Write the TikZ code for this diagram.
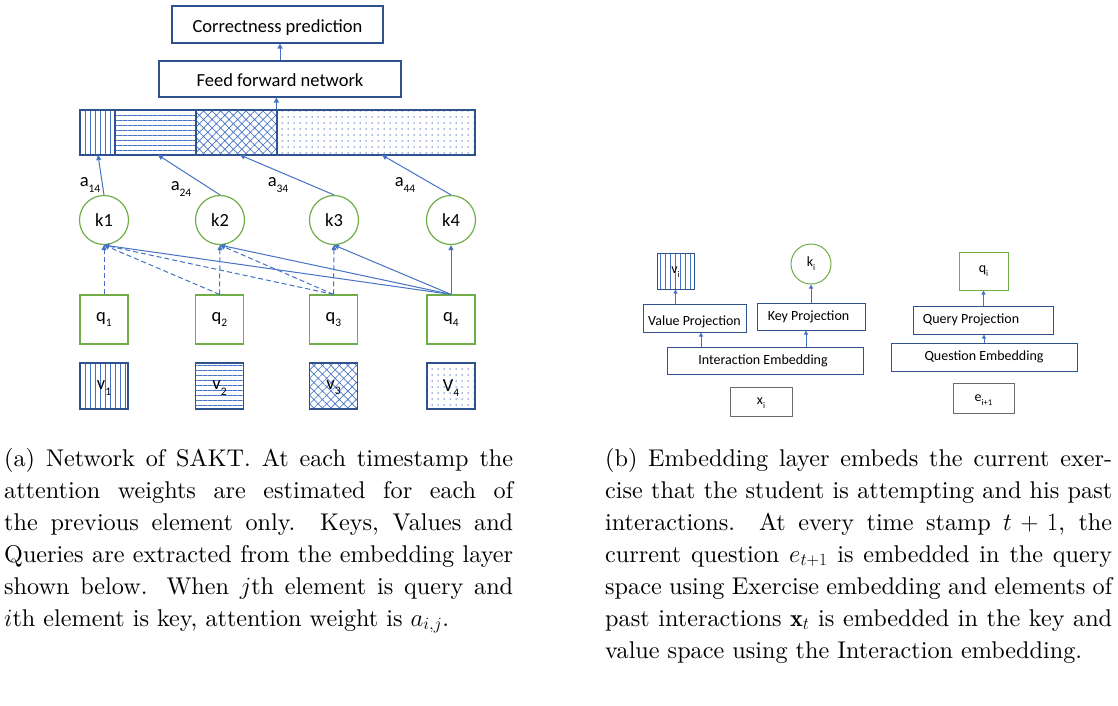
\documentclass[tikz,border=0pt]{standalone}
\usepackage{fontspec}
\newfontfamily\diag{Carlito}
% caption text in the 10pt design of Latin Modern, scaled up
\newfontfamily\capfont{lmroman10-regular.otf}[
  ItalicFont=lmroman10-italic.otf,
  BoldFont=lmroman10-bold.otf]
\usetikzlibrary{patterns.meta,arrows.meta,calc}

\definecolor{lblue}{HTML}{4472C4}
\definecolor{dblue}{HTML}{2F528F}
\definecolor{kgreen}{HTML}{70AD47}
\definecolor{bgrey}{HTML}{6A6A6A}

% lowered, reduced index used in the diagram labels
\newcommand\lowidx[1]{\raisebox{-0.28em}{\scalebox{0.62}{#1}}}
% move a label down without changing the box the node centres
\newcommand\dropby[2]{\raisebox{-#1}[\height][\depth]{#2}}

\tikzset{
  bigfont/.style={font=\diag\fontsize{18.5}{20}\selectfont},
  smallfont/.style={font=\diag\fontsize{14}{16}\selectfont},
  bluebox/.style={draw=dblue, line width=1.1pt, inner sep=0pt, bigfont},
  smallbox/.style={draw=dblue, line width=1pt, inner sep=0pt, smallfont},
  greybox/.style={draw=bgrey, line width=1pt, inner sep=0pt, smallfont},
  querybox/.style={draw=kgreen, line width=1.2pt, inner sep=0pt,
                   minimum width=48pt, minimum height=49pt, bigfont},
  valuebox/.style={draw=dblue, line width=1.2pt, inner sep=0pt,
                   minimum width=48pt, minimum height=46pt, bigfont},
  keycirc/.style={circle, draw=kgreen, line width=1.2pt, inner sep=0pt,
                  minimum size=49pt, bigfont},
  seg/.style={draw=dblue, line width=1.1pt, inner sep=0pt, minimum height=45pt},
  link/.style={draw=lblue, line width=1pt, -{Triangle[length=5pt,width=5pt]}},
  dlink/.style={link, dash pattern=on 5pt off 3pt},
  slink/.style={draw=lblue, line width=0.8pt, -{Triangle[length=4pt,width=4pt]}},
  vlines/.style={pattern={Lines[angle=90,distance=5pt,line width=0.9pt]}, pattern color=lblue},
  hlines/.style={pattern={Lines[angle=0,distance=5pt,line width=0.9pt]}, pattern color=lblue},
  xhatch/.style={pattern={Hatch[angle=45,distance=6pt,line width=0.65pt]}, pattern color=lblue},
  dotpat/.style={pattern={Dots[distance=6pt,radius=0.75pt]}, pattern color=lblue},
  capt/.style={anchor=base west, inner sep=0pt},
}

\begin{document}
\begin{tikzpicture}[x=1pt,y=-1pt]
\useasboundingbox (0,0) rectangle (1118,705);

% ---------------- SAKT network ----------------
\node[bluebox, minimum width=211pt, minimum height=37pt] (cp) at (277.5,24.5) {\dropby{3.5pt}{Correctness prediction}};
\node[bluebox, minimum width=242pt, minimum height=36pt] (ffn) at (280,79) {\dropby{1.5pt}{Feed forward network}};

% attention-weighted sum of values
\node[seg, vlines, minimum width=35pt]  (s1) at (97.5,132.5) {};
\node[seg, hlines, minimum width=81pt]  (s2) at (155.5,132.5) {};
\node[seg, xhatch, minimum width=81pt]  (s3) at (236.5,132.5) {};
\node[seg, dotpat, minimum width=198pt] (s4) at (376,132.5) {};

\draw[link] (s4.north west) -- (s4.north west |- ffn.south);
\draw[link] (ffn.north) -- (ffn.north |- cp.south);

% keys
\node[keycirc] (k1) at (104,220) {k1};
\node[keycirc] (k2) at (220,220) {k2};
\node[keycirc] (k3) at (334,220) {k3};
\node[keycirc] (k4) at (451,220) {k4};

% queries
\node[querybox] (q1) at (104,319.5) {q\lowidx{1}};
\node[querybox] (q2) at (219.5,319.5) {q\lowidx{2}};
\node[querybox] (q3) at (333.5,319.5) {q\lowidx{3}};
\node[querybox] (q4) at (451,319.5) {q\lowidx{4}};

% values
\node[valuebox, vlines] (v1) at (104,386) {\dropby{2pt}{v\lowidx{1}}};
\node[valuebox, hlines] (v2) at (219.5,386) {\dropby{2pt}{v\lowidx{2}}};
\node[valuebox, xhatch] (v3) at (333.5,386) {\dropby{2pt}{v\lowidx{3}}};
\node[valuebox, dotpat] (v4) at (451,386) {\dropby{2pt}{V\lowidx{4}}};

% attention weights into the combined vector
\coordinate (t1) at (98,155);
\coordinate (t2) at (158,155);
\coordinate (t3) at (240,155);
\coordinate (t4) at (382,155);
\draw[link] (k1.north) -- (t1);
\draw[link] (k2.north) -- (t2);
\draw[link] (k3.north) -- (t3);
\draw[link] (k4.north) -- (t4);

\node[bigfont] (a14) at (90,185) {a\lowidx{14}};
\node[bigfont] (a24) at (181,189) {a\lowidx{24}};
\node[bigfont] (a34) at (278,185) {a\lowidx{34}};
\node[bigfont] (a44) at (405,185) {a\lowidx{44}};

% queries attend to the previous keys only
\draw[dlink] (q1.north) -- (k1.south);
\draw[dlink] (q2.north) -- (k1.south);
\draw[dlink] (q2.north) -- (k2.south);
\draw[dlink] (q3.north) -- (k1.south);
\draw[dlink] (q3.north) -- (k2.south);
\draw[dlink] (q3.north) -- (k3.south);
\draw[link] (q4.north) -- (k1.south);
\draw[link] (q4.north) -- (k2.south);
\draw[link] (q4.north) -- (k3.south);
\draw[link] (q4.north) -- (k4.south);

% ---------------- embedding layer ----------------
\node[smallbox, vlines, minimum width=37pt, minimum height=36pt] (vi) at (675.5,271) {\dropby{1pt}{v\lowidx{i}}};
\node[circle, draw=kgreen, line width=1pt, minimum size=40pt, inner sep=0pt, smallfont] (ki) at (811,264) {k\lowidx{i}};
\node[smallbox, minimum width=103pt, minimum height=28pt] (vp) at (694.5,318) {\dropby{4pt}{Value Projection}};
\node[smallbox, minimum width=108pt, minimum height=27pt] (kp) at (811,316.5) {\hspace*{-5pt}Key Projection};
\node[smallbox, minimum width=196pt, minimum height=27pt] (ie) at (765,360.5) {\hspace*{-4pt}Interaction Embedding};
\node[greybox, minimum width=62pt, minimum height=29pt] (xi) at (761,401.5) {\dropby{2pt}{x\lowidx{i}}};

\coordinate (c701) at (701,0);
\coordinate (c806) at (806,0);
\draw[slink] (c701 |- ie.north) -- (c701 |- vp.south);
\draw[slink] (c806 |- ie.north) -- (c806 |- kp.south);
\draw[slink] (vp.north -| vi) -- (vi.south);
\draw[slink] (kp.north -| ki) -- (ki.south);

\node[draw=kgreen, line width=1pt, inner sep=0pt, minimum width=49pt, minimum height=38pt, smallfont] (qi) at (983.5,271) {q\lowidx{i}};
\node[smallbox, minimum width=140pt, minimum height=28pt] (qp) at (983,320) {\hspace*{-24pt}Query Projection};
\node[smallbox, minimum width=186pt, minimum height=28pt] (qe) at (984,357) {Question Embedding};
\node[greybox, minimum width=61pt, minimum height=30pt] (ei) at (983.5,398) {\dropby{2pt}{e\lowidx{i+1}}};

\draw[slink] (qe.north) -- (qp.south -| qe.north);
\draw[slink] (qp.north -| qi) -- (qi.south);

% ---------------- captions ----------------
\hyphenpenalty=10000
\node[capt] (capa) at (4,466) {\parbox[t]{509pt}{\capfont\fontsize{24.2}{32}\selectfont
(a) Network of SAKT. At each timestamp the\linebreak
attention weights are estimated for each of\linebreak
the previous element only. Keys, Values and\linebreak
Queries are extracted from the embedding layer\linebreak
shown below. When $j$th element is query and\linebreak
$i$th element is key, attention weight is $a_{i,j}$.}};

\node[capt] (capb) at (605,466) {\parbox[t]{507pt}{\capfont\fontsize{24.2}{32}\selectfont
(b) Embedding layer embeds the current exer-\linebreak
cise that the student is attempting and his past\linebreak
interactions. At every time stamp $t+1$, the\linebreak
current question $e_{t+1}$ is embedded in the query\linebreak
space using Exercise embedding and elements of\linebreak
past interactions $\mathbf{x}_t$ is embedded in the key and\linebreak
value space using the Interaction embedding.}};
\end{tikzpicture}
\end{document}
